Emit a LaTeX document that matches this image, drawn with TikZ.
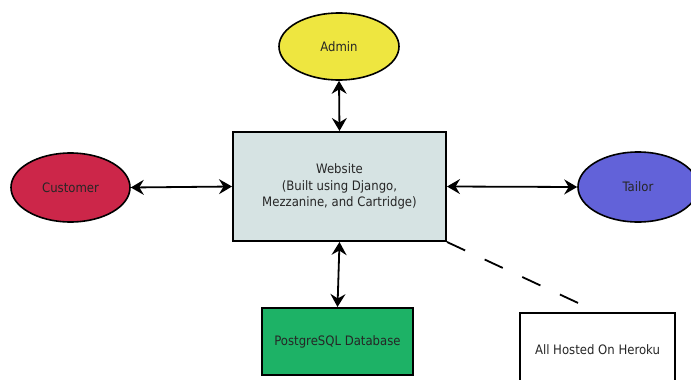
\documentclass[tikz,border=0pt]{standalone}
\usepackage{fontspec}
\setmainfont{DejaVu Sans Condensed}
\usetikzlibrary{shapes.geometric,arrows.meta}
\definecolor{txt}{HTML}{262626}
\definecolor{adminc}{HTML}{EEE640}
\definecolor{custc}{HTML}{CC2649}
\definecolor{tailc}{HTML}{6262D9}
\definecolor{webc}{HTML}{D6E3E3}
\definecolor{dbc}{HTML}{1DB266}
\begin{document}
\begin{tikzpicture}[x=1pt,y=-1pt,
  >={Stealth[length=13pt,width=15pt,inset=4.5pt]},
  lbl/.style={text=txt,font=\fontsize{13}{16.5}\selectfont,align=center},
  actor/.style={ellipse,draw=black,line width=1.6pt,inner sep=0pt,lbl},
  boxnode/.style={rectangle,draw=black,line width=2pt,inner sep=0pt,lbl},
  link/.style={<->,line width=1.8pt},
  hosted/.style={line width=1.8pt,dash pattern=on 20pt off 21.5pt}]
\useasboundingbox (0,0) rectangle (691,380);
\clip (0,0) rectangle (691,380);
\node[actor,fill=adminc,minimum width=120pt,minimum height=67pt] (admin) at (339,46.5) {Admin};
\node[boxnode,fill=webc,minimum width=213pt,minimum height=109pt] (web) at (339.5,186.5)
  {Website\\(Built using Django,\\Mezzanine, and Cartridge)};
\node[actor,fill=custc,minimum width=119pt,minimum height=69pt] (cust) at (70.5,187.5) {Customer};
\node[actor,fill=tailc,minimum width=120pt,minimum height=70pt] (tailor) at (638,187) {Tailor};
\node[boxnode,fill=dbc,minimum width=151pt,minimum height=67pt] (db) at (337.5,341.5) {PostgreSQL Database};
\node[boxnode,fill=white,minimum width=155pt,minimum height=74pt] (heroku) at (597.5,350) {All Hosted On Heroku};
\draw[link] (admin.south) -- (web.north);
\draw[link] (cust.east) -- (web.west);
\draw[link] (tailor.west) -- (web.east);
\draw[link] (web.south) -- (db.north);
\draw[hosted] (web.south east) -- (heroku.north);
\end{tikzpicture}
\end{document}
